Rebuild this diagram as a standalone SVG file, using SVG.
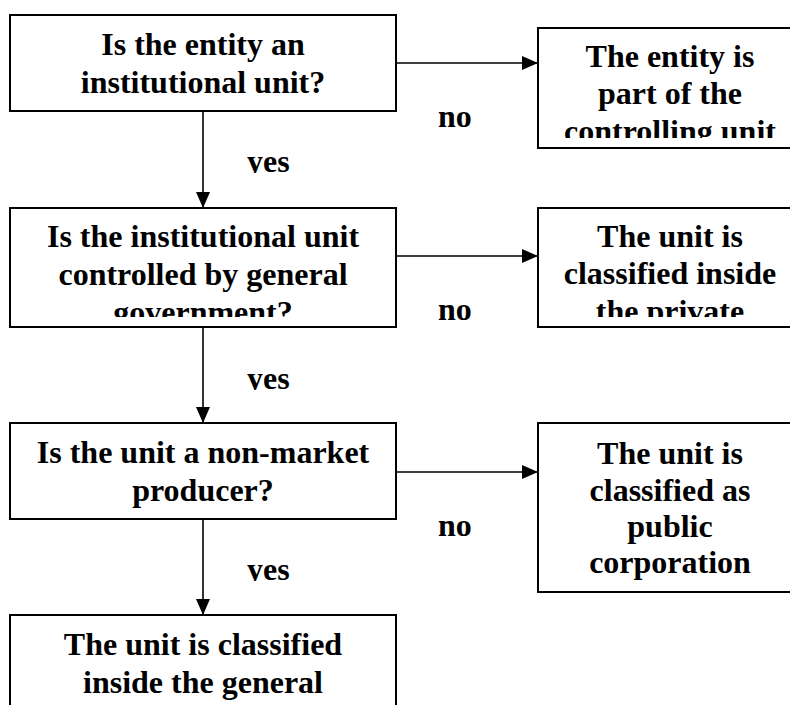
<svg xmlns="http://www.w3.org/2000/svg" width="790" height="705" viewBox="0 0 790 705">
<style>
.box{fill:#fff;stroke:#000;stroke-width:2}
.t{font-family:'Liberation Serif','Times New Roman',serif;font-weight:bold;font-size:32px;fill:#000;text-anchor:middle}
.lbl{font-family:'Liberation Serif','Times New Roman',serif;font-weight:bold;font-size:32px;fill:#000}
.ln{stroke:#000;stroke-width:1.6;fill:none}
</style>
<defs>
<marker id="ah" viewBox="0 0 16 14" refX="16" refY="7" markerWidth="16" markerHeight="14" markerUnits="userSpaceOnUse" orient="auto">
<path d="M0,0 L16,7 L0,14 Z" fill="#000"/>
</marker>
<clipPath id="c1" clipPathUnits="userSpaceOnUse"><rect x="10" y="15" width="386" height="86"/></clipPath>
<clipPath id="c2" clipPathUnits="userSpaceOnUse"><rect x="10" y="208" width="386" height="109"/></clipPath>
<clipPath id="c3" clipPathUnits="userSpaceOnUse"><rect x="10" y="423" width="386" height="90"/></clipPath>
<clipPath id="c4" clipPathUnits="userSpaceOnUse"><rect x="10" y="615" width="386" height="90"/></clipPath>
<clipPath id="r1" clipPathUnits="userSpaceOnUse"><rect x="538" y="28" width="260" height="110"/></clipPath>
<clipPath id="r2" clipPathUnits="userSpaceOnUse"><rect x="538" y="208" width="260" height="109"/></clipPath>
<clipPath id="r3" clipPathUnits="userSpaceOnUse"><rect x="538" y="423" width="260" height="165"/></clipPath>
<clipPath id="y1" clipPathUnits="userSpaceOnUse"><rect x="230" y="140" width="80" height="33"/></clipPath>
<clipPath id="y2" clipPathUnits="userSpaceOnUse"><rect x="230" y="357" width="80" height="33"/></clipPath>
<clipPath id="y3" clipPathUnits="userSpaceOnUse"><rect x="230" y="548" width="80" height="33"/></clipPath>
</defs>

<g id="connectors">
<line class="ln" x1="203" y1="111" x2="203" y2="208" marker-end="url(#ah)"/>
<line class="ln" x1="396" y1="63" x2="538" y2="63" marker-end="url(#ah)"/>
<line class="ln" x1="203" y1="327" x2="203" y2="423" marker-end="url(#ah)"/>
<line class="ln" x1="396" y1="256" x2="538" y2="256" marker-end="url(#ah)"/>
<line class="ln" x1="203" y1="519" x2="203" y2="615" marker-end="url(#ah)"/>
<line class="ln" x1="396" y1="472" x2="538" y2="472" marker-end="url(#ah)"/>
<text class="lbl" x="438" y="127">no</text>
<text class="lbl" x="438" y="320">no</text>
<text class="lbl" x="438" y="536">no</text>
<text class="lbl" x="247" y="172" clip-path="url(#y1)">yes</text>
<text class="lbl" x="247" y="389" clip-path="url(#y2)">yes</text>
<text class="lbl" x="247" y="580" clip-path="url(#y3)">yes</text>
</g>

<g id="q1">
<rect class="box" x="10" y="15" width="386" height="96"/>
<g clip-path="url(#c1)">
<text class="t" x="203" y="55">Is the entity an</text>
<text class="t" x="203" y="93">institutional unit?</text>
</g>
</g>

<g id="r-controlling">
<rect class="box" x="538" y="28" width="272" height="120"/>
<g clip-path="url(#r1)">
<text class="t" x="670" y="67">The entity is</text>
<text class="t" x="670" y="104">part of the</text>
<text class="t" x="670" y="142">controlling unit</text>
</g>
</g>

<g id="q2">
<rect class="box" x="10" y="208" width="386" height="119"/>
<g clip-path="url(#c2)">
<text class="t" x="203" y="247">Is the institutional unit</text>
<text class="t" x="203" y="285">controlled by general</text>
<text class="t" x="203" y="323">government?</text>
</g>
</g>

<g id="r-private">
<rect class="box" x="538" y="208" width="272" height="119"/>
<g clip-path="url(#r2)">
<text class="t" x="670" y="247">The unit is</text>
<text class="t" x="670" y="284">classified inside</text>
<text class="t" x="670" y="322">the private</text>
</g>
</g>

<g id="q3">
<rect class="box" x="10" y="423" width="386" height="96"/>
<g clip-path="url(#c3)">
<text class="t" x="203" y="463">Is the unit a non-market</text>
<text class="t" x="203" y="501">producer?</text>
</g>
</g>

<g id="r-public">
<rect class="box" x="538" y="423" width="272" height="169"/>
<g clip-path="url(#r3)">
<text class="t" x="670" y="464">The unit is</text>
<text class="t" x="670" y="501">classified as</text>
<text class="t" x="670" y="537">public</text>
<text class="t" x="670" y="573">corporation</text>
</g>
</g>

<g id="r-general">
<rect class="box" x="10" y="615" width="386" height="110"/>
<g clip-path="url(#c4)">
<text class="t" x="203" y="655">The unit is classified</text>
<text class="t" x="203" y="693">inside the general</text>
</g>
</g>
</svg>
